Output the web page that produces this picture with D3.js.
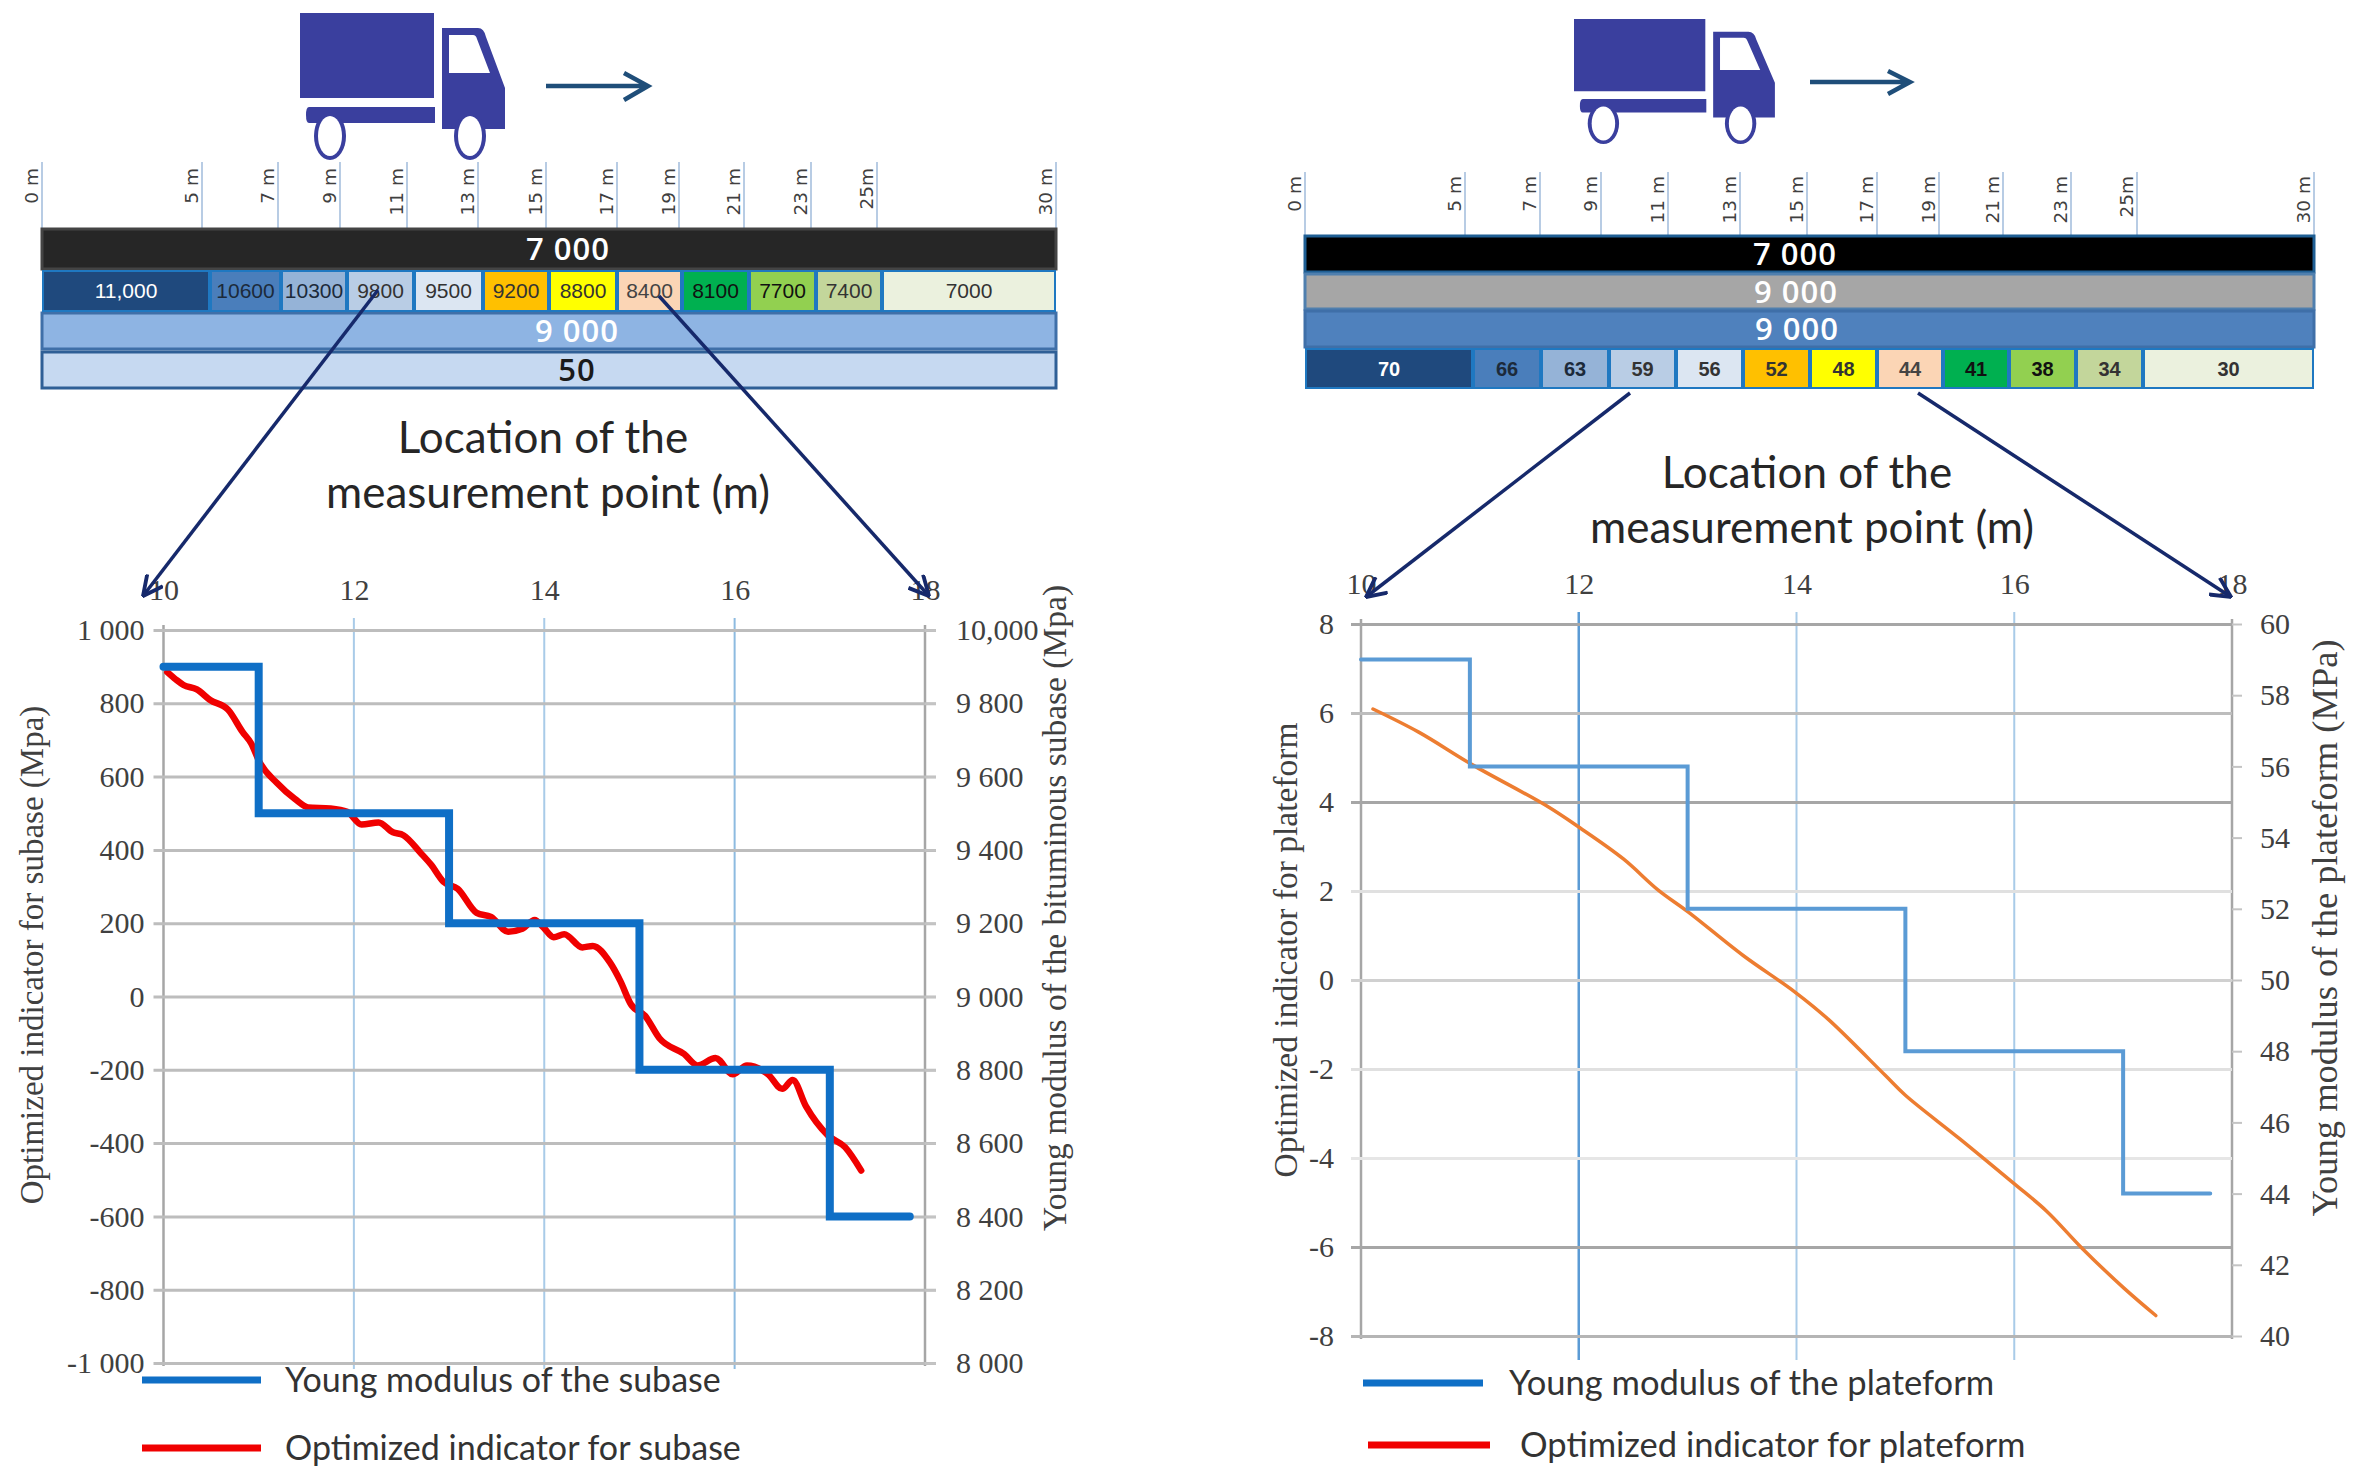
<!DOCTYPE html>
<html>
<head>
<meta charset="utf-8">
<title>Young modulus and optimized indicator</title>
<script src="https://cdnjs.cloudflare.com/ajax/libs/d3/7.8.5/d3.min.js"></script>
<style>
  html, body { margin: 0; background: #fff; }
  svg { display: block; }
</style>
</head>
<body>
<div id="chart"></div>
<script>
// ---- data ----
const rulerMeters = [0, 5, 7, 9, 11, 13, 15, 17, 19, 21, 23, 25, 30]
const rulerLabels = ['0 m', '5 m', '7 m', '9 m', '11 m', '13 m', '15 m', '17 m', '19 m', '21 m', '23 m', '25m', '30 m']

const subaseCells = ['11,000', '10600', '10300', '9800', '9500', '9200', '8800', '8400', '8100', '7700', '7400', '7000']
const platformCells = ['70', '66', '63', '59', '56', '52', '48', '44', '41', '38', '34', '30']

const subaseStepX = [10, 11, 13, 15, 17, 17.84]
const subaseModulus = [9900, 9500, 9200, 8800, 8400, 8400]
const subaseIndicatorX = [10.04, 10.13, 10.21, 10.35, 10.49, 10.68, 10.83, 10.92, 11.01, 11.19, 11.38, 11.52, 11.75, 11.93, 12.08, 12.26, 12.41, 12.52, 12.70, 12.81, 12.94, 13.09, 13.29, 13.44, 13.62, 13.77, 13.90, 13.99, 14.10, 14.21, 14.40, 14.51, 14.69, 14.80, 14.91, 15.06, 15.21, 15.47, 15.61, 15.80, 15.98, 16.13, 16.35, 16.50, 16.61, 16.75, 16.98, 17.16, 17.33]
const subaseIndicator = [885, 865, 850, 838, 809, 782, 722, 691, 639, 583, 539, 516, 513, 504, 469, 475, 448, 440, 392, 360, 313, 294, 228, 217, 177, 185, 209, 189, 162, 170, 134, 138, 93, 42, -21, -53, -114, -157, -188, -168, -212, -188, -212, -252, -228, -300, -379, -411, -475]

const platformStepX = [10, 11, 13, 15, 17, 17.8]
const platformModulus = [59, 56, 52, 48, 44, 44]
const platformIndicatorX = [10.11, 10.53, 11.02, 11.70, 12.01, 12.41, 12.73, 13.01, 13.51, 13.98, 14.29, 14.81, 15.0, 15.5, 15.99, 16.30, 16.62, 17.01, 17.30]
const platformIndicator = [6.09, 5.57, 4.84, 3.92, 3.42, 2.72, 2.02, 1.52, 0.55, -0.26, -0.88, -2.13, -2.59, -3.57, -4.56, -5.2, -6.02, -6.93, -7.54]

const topTicks = [10, 12, 14, 16, 18]
const subaseLeftTicks = [1000, 800, 600, 400, 200, 0, -200, -400, -600, -800, -1000]
const subaseLeftLabels = ['1 000', '800', '600', '400', '200', '0', '-200', '-400', '-600', '-800', '-1 000']
const subaseRightTicks = [10000, 9800, 9600, 9400, 9200, 9000, 8800, 8600, 8400, 8200, 8000]
const subaseRightLabels = ['10,000', '9 800', '9 600', '9 400', '9 200', '9 000', '8 800', '8 600', '8 400', '8 200', '8 000']
const platformLeftTicks = [8, 6, 4, 2, 0, -2, -4, -6, -8]
const platformRightTicks = [60, 58, 56, 54, 52, 50, 48, 46, 44, 42, 40]

// ---- styles ----
const cellColors = ['#1f497d', '#4a7ebb', '#95b3d7', '#b9cde5', '#dce6f2', '#ffc000', '#ffff00', '#fbd5b5', '#00b050', '#92d050', '#c3d69b', '#ebf1de']
const cellText = ['#fff', '#1c2a3a', '#1c2a3a', '#333', '#333', '#333', '#333', '#444', '#111', '#111', '#333', '#333']
const serif = '"Liberation Serif", serif'
const sans = 'Lato, sans-serif'
const wide = '"Open Sans", sans-serif'

const svg = d3.select('#chart').append('svg')
    .attr('width', 2355)
    .attr('height', 1477)
    .attr('viewBox', '0 0 2355 1477')

svg.append('defs').append('marker')
    .attr('id', 'head')
    .attr('viewBox', '0 0 20 20')
    .attr('refX', 19)
    .attr('refY', 10)
    .attr('markerWidth', 22)
    .attr('markerHeight', 22)
    .attr('markerUnits', 'userSpaceOnUse')
    .attr('orient', 'auto')
    .append('path')
    .attr('d', 'M1,1 L19,10 L1,19')
    .attr('fill', 'none')
    .attr('stroke', '#16296b')
    .attr('stroke-width', 3.5)

function drawTruck(g, box) {
    let t = g.append('g')
        .attr('transform', `translate(${box.x},${box.y}) scale(${box.sx},${box.sy})`)
    let color = '#3a3f9e'
    t.append('rect').attr('width', 134).attr('height', 85).attr('fill', color)
    t.append('path').attr('fill', color)
        .attr('d', 'M9,94 H135 V110 H9 Q6,110 6,102 Q6,94 9,94 Z')
    t.append('path').attr('fill', color)
        .attr('d', 'M142,15 H178 Q184,15 186,24 L205,75 V116 H142 Z')
    t.append('path').attr('fill', '#fff')
        .attr('d', 'M149,22 H173 Q176,22 177,26 L190,60 H149 Z')
    ;[30, 170].forEach(cx => {
        t.append('ellipse').attr('cx', cx).attr('cy', 123)
            .attr('rx', 16).attr('ry', 24)
            .attr('fill', color)
        t.append('ellipse').attr('cx', cx).attr('cy', 123)
            .attr('rx', 12).attr('ry', 20)
            .attr('fill', '#fff')
    })
}

function drawRuler(g, p) {
    let x = d3.scaleLinear().domain(rulerMeters).range(p.tickPx)
    let ticks = g.selectAll('.ruler-tick').data(rulerMeters).enter().append('g')
        .attr('class', 'ruler-tick')
        .attr('transform', d => `translate(${x(d)},0)`)
    ticks.append('line')
        .attr('y1', p.tickTop)
        .attr('y2', p.tickBottom)
        .attr('stroke', '#b8cce4')
        .attr('stroke-width', 2)
    ticks.append('text')
        .text((d, i) => rulerLabels[i])
        .attr('transform', `translate(-4,${p.labelTop}) rotate(-90)`)
        .attr('text-anchor', 'end')
        .attr('font-family', '"DejaVu Sans", sans-serif')
        .attr('font-size', 18.5)
        .attr('fill', '#404040')
}

function drawCells(g, p, row) {
    let edge = d3.scaleLinear().domain(rulerMeters).range(p.cellPx)
    g.append('rect')
        .attr('x', edge(0)).attr('y', row.top - 2)
        .attr('width', edge(30) - edge(0)).attr('height', row.bottom - row.top + 4)
        .attr('fill', '#1f78c1')
    p.cells.forEach((label, i) => {
        let x0 = edge(rulerMeters[i]), x1 = edge(rulerMeters[i + 1])
        g.append('rect')
            .attr('x', x0 + 2).attr('y', row.top)
            .attr('width', x1 - x0 - 4).attr('height', row.bottom - row.top)
            .attr('fill', cellColors[i])
        g.append('text')
            .text(label)
            .attr('x', (x0 + x1) / 2)
            .attr('y', (row.top + row.bottom) / 2 + 7)
            .attr('text-anchor', 'middle')
            .attr('font-family', p.cellFont)
            .attr('font-weight', p.cellWeight)
            .attr('font-size', p.cellSize)
            .attr('fill', cellText[i])
    })
}

function drawBands(g, p) {
    p.bands.forEach(b => {
        g.append('rect')
            .attr('x', p.cellPx[0]).attr('y', b.top)
            .attr('width', p.cellPx[12] - p.cellPx[0]).attr('height', b.bottom - b.top)
            .attr('fill', b.fill)
            .attr('stroke', b.stroke)
            .attr('stroke-width', 3)
        g.append('text')
            .text(b.label)
            .attr('x', b.cx)
            .attr('y', (b.top + b.bottom) / 2 + 11)
            .attr('text-anchor', 'middle')
            .attr('font-family', wide)
            .attr('font-weight', 600)
            .attr('font-size', 31)
            .attr('letter-spacing', 1)
            .attr('fill', b.color)
    })
}

function drawChart(g, p) {
    let x = d3.scaleLinear().domain([10, 18]).range([p.left, p.right])
    let yLeft = d3.scaleLinear().domain(p.leftDomain).range([p.bottom, p.top])
    let yRight = d3.scaleLinear().domain(p.rightDomain).range([p.bottom, p.top])

    // vertical guides
    g.selectAll('.guide').data(topTicks.slice(1, 4)).enter().append('line')
        .attr('class', 'guide')
        .attr('x1', d => x(d)).attr('x2', d => x(d))
        .attr('y1', p.top - 12).attr('y2', p.bottom + p.guideOver)
        .attr('stroke', (d, i) => p.guideColors[i])
        .attr('stroke-width', (d, i) => p.guideWidths[i])

    ;[10, 18].forEach(d => {
        g.append('line')
            .attr('x1', x(d)).attr('x2', x(d))
            .attr('y1', p.top - 5).attr('y2', p.bottom + 3)
            .attr('stroke', '#a6a6a6').attr('stroke-width', 2.5)
    })

    let topAxis = d3.axisTop(x).tickValues(topTicks).tickSize(0).tickPadding(0)
    let gTop = g.append('g').attr('transform', `translate(0,${p.topAxisY})`).call(topAxis)
    gTop.select('.domain').remove()
    gTop.selectAll('text')
        .attr('font-family', serif).attr('font-size', p.fontSize).attr('fill', '#404040')

    let leftAxis = d3.axisLeft(yLeft).tickValues(p.leftTicks).tickSize(10).tickPadding(p.leftPad)
        .tickFormat((d, i) => p.leftLabels ? p.leftLabels[i] : d)
    let gLeft = g.append('g').attr('transform', `translate(${p.left},0)`).call(leftAxis)
    gLeft.select('.domain').remove()
    gLeft.selectAll('line')
        .attr('x1', -10)
        .attr('x2', p.right - p.left + p.gridOver)
        .attr('stroke', (d, i) => p.gridColors ? p.gridColors[i] : '#bdbdbd')
        .attr('stroke-width', 3)
    gLeft.selectAll('text')
        .attr('font-family', serif).attr('font-size', p.fontSize).attr('fill', '#404040')

    let rightAxis = d3.axisRight(yRight).tickValues(p.rightTicks).tickSize(p.rightTick).tickPadding(p.rightPad)
        .tickFormat((d, i) => p.rightLabels ? p.rightLabels[i] : d)
    let gRight = g.append('g').attr('transform', `translate(${p.right},0)`).call(rightAxis)
    gRight.select('.domain').remove()
    gRight.selectAll('line').attr('stroke', '#c4c4c4').attr('stroke-width', 2)
    gRight.selectAll('text')
        .attr('font-family', serif).attr('font-size', p.fontSize).attr('fill', '#404040')

    // series
    let stepLine = d3.line().x(d => x(d[0])).y(d => yRight(d[1])).curve(d3.curveStepAfter)
    let indicatorLine = d3.line().x(d => x(d[0])).y(d => yLeft(d[1])).curve(p.indicatorCurve)

    g.append('path')
        .attr('d', indicatorLine(d3.zip(p.indicatorX, p.indicator)))
        .attr('fill', 'none')
        .attr('stroke', p.indicatorColor)
        .attr('stroke-width', p.indicatorWidth)
        .attr('stroke-linecap', 'round')
    g.append('path')
        .attr('d', stepLine(d3.zip(p.stepX, p.modulus)))
        .attr('fill', 'none')
        .attr('stroke', p.stepColor)
        .attr('stroke-width', p.stepWidth)
        .attr('stroke-linecap', 'round')

    // axis titles
    p.titles.forEach(t => {
        g.append('text')
            .text(t.text)
            .attr('transform', `translate(${t.x},${t.y}) rotate(-90)`)
            .attr('text-anchor', 'middle')
            .attr('font-family', serif)
            .attr('font-size', t.size)
            .attr('fill', '#404040')
    })
}

function drawLegend(g, p) {
    p.legend.forEach(l => {
        g.append('line')
            .attr('x1', l.x1).attr('x2', l.x2)
            .attr('y1', l.y).attr('y2', l.y)
            .attr('stroke', l.color)
            .attr('stroke-width', 7)
        g.append('text')
            .text(l.text)
            .attr('x', l.tx)
            .attr('y', l.y + 12)
            .attr('font-family', sans)
            .attr('font-size', p.legendSize)
            .attr('fill', '#333')
    })
}

function drawPanel(p) {
    let g = svg.append('g')
    drawTruck(g, p.truck)

    g.append('path')
        .attr('d', p.travelArrow)
        .attr('fill', 'none')
        .attr('stroke', '#1f4e79')
        .attr('stroke-width', 4.5)

    drawRuler(g, p)
    drawBands(g, p)
    drawCells(g, p, p.cellRow)

    p.caption.forEach(c => {
        g.append('text')
            .text(c.text)
            .attr('x', c.x).attr('y', c.y)
            .attr('text-anchor', 'middle')
            .attr('font-family', sans)
            .attr('font-size', 44)
            .attr('fill', '#262626')
    })

    drawChart(g, p)
    drawLegend(g, p)

    p.zoomArrows.forEach(a => {
        g.append('line')
            .attr('x1', a[0]).attr('y1', a[1])
            .attr('x2', a[2]).attr('y2', a[3])
            .attr('stroke', '#16296b')
            .attr('stroke-width', 3.5)
            .attr('marker-end', 'url(#head)')
    })
}

drawPanel({
    truck: { x: 300, y: 13, sx: 1, sy: 1 },
    travelArrow: 'M546,86 H648 M624,73 L648,86 L624,100',
    tickPx: [42, 202, 278, 340, 407, 478, 546, 617, 679, 744, 811, 877, 1056],
    cellPx: [42, 210, 281, 347, 414, 483, 549, 617, 682, 749, 816, 882, 1056],
    tickTop: 162, tickBottom: 229, labelTop: 168,
    cells: subaseCells, cellFont: '"Liberation Sans", sans-serif', cellWeight: 400, cellSize: 21,
    cellRow: { top: 272, bottom: 310 },
    bands: [
        { top: 229, bottom: 269, fill: '#262626', stroke: '#444', label: '7 000', cx: 568, color: '#fff' },
        { top: 313, bottom: 349, fill: '#8eb4e3', stroke: '#3f6fa8', label: '9 000', cx: 577, color: '#fff' },
        { top: 352, bottom: 388, fill: '#c6d9f1', stroke: '#2f5f96', label: '50', cx: 577, color: '#1a1a1a' }
    ],
    caption: [
        { text: 'Location of the', x: 543, y: 453 },
        { text: 'measurement point (m)', x: 548, y: 508 }
    ],
    left: 163.5, right: 925, top: 630, bottom: 1363,
    topAxisY: 600, fontSize: 30, leftPad: 9, rightPad: 20, rightTick: 11, gridOver: 11, guideOver: 6,
    leftDomain: [-1000, 1000], rightDomain: [8000, 10000],
    leftTicks: subaseLeftTicks, leftLabels: subaseLeftLabels,
    rightTicks: subaseRightTicks, rightLabels: subaseRightLabels,
    guideColors: ['#a9cbe8', '#a9cbe8', '#8dbbe0'], guideWidths: [2, 2, 2],
    stepX: subaseStepX, modulus: subaseModulus, stepColor: '#0f6fc6', stepWidth: 8,
    indicatorX: subaseIndicatorX, indicator: subaseIndicator, indicatorCurve: d3.curveMonotoneX,
    indicatorColor: '#f00000', indicatorWidth: 6.5,
    titles: [
        { text: 'Optimized indicator for subase (Mpa)', x: 43, y: 955, size: 33 },
        { text: 'Young modulus of the bituminous subase (Mpa)', x: 1066, y: 908, size: 33.5 }
    ],
    legendSize: 34,
    legend: [
        { x1: 142, x2: 261, y: 1380, color: '#0f6fc6', text: 'Young modulus of the subase', tx: 285 },
        { x1: 142, x2: 261, y: 1448, color: '#f00000', text: 'Optimized indicator for subase', tx: 285 }
    ],
    zoomArrows: [[378, 290, 143, 596], [659, 296, 929, 596]]
})

drawPanel({
    truck: { x: 1574, y: 19, sx: 0.98, sy: 0.85 },
    travelArrow: 'M1810,82 H1910 M1888,71 L1910,82 L1888,94',
    tickPx: [1305, 1465, 1540, 1601, 1668, 1740, 1807, 1877, 1939, 2003, 2071, 2137, 2314],
    cellPx: [1305, 1473, 1541, 1609, 1676, 1743, 1810, 1877, 1943, 2009, 2076, 2143, 2314],
    tickTop: 172, tickBottom: 236, labelTop: 176,
    cells: platformCells, cellFont: '"Liberation Sans", sans-serif', cellWeight: 700, cellSize: 20,
    cellRow: { top: 350, bottom: 387 },
    bands: [
        { top: 236, bottom: 272, fill: '#000', stroke: '#1f5f94', label: '7 000', cx: 1795, color: '#fff' },
        { top: 274, bottom: 309, fill: '#a6a6a6', stroke: '#4f7fae', label: '9 000', cx: 1796, color: '#fff' },
        { top: 311, bottom: 347, fill: '#4f81bd', stroke: '#3f6fa8', label: '9 000', cx: 1797, color: '#fff' }
    ],
    caption: [
        { text: 'Location of the', x: 1807, y: 488 },
        { text: 'measurement point (m)', x: 1812, y: 543 }
    ],
    left: 1361, right: 2232, top: 624, bottom: 1336,
    topAxisY: 594, fontSize: 30, leftPad: 17, rightPad: 18, rightTick: 10, gridOver: 0, guideOver: 24,
    leftDomain: [-8, 8], rightDomain: [40, 60],
    leftTicks: platformLeftTicks,
    gridColors: ['#a6a6a6', '#bdbdbd', '#a6a6a6', '#e0e0e0', '#d0d0d0', '#e0e0e0', '#e6e6e6', '#a6a6a6', '#b5b5b5'],
    rightTicks: platformRightTicks,
    guideColors: ['#5b9bd5', '#a9cbe8', '#a9cbe8'], guideWidths: [2.5, 2, 2],
    stepX: platformStepX, modulus: platformModulus, stepColor: '#5b9bd5', stepWidth: 4,
    indicatorX: platformIndicatorX, indicator: platformIndicator, indicatorCurve: d3.curveCatmullRom,
    indicatorColor: '#ed7d31', indicatorWidth: 3.5,
    titles: [
        { text: 'Optimized indicator for plateform', x: 1297, y: 950, size: 33.5 },
        { text: 'Young modulus of the plateform (MPa)', x: 2337, y: 928, size: 36.5 }
    ],
    legendSize: 34.5,
    legend: [
        { x1: 1363, x2: 1483, y: 1383, color: '#0f6fc6', text: 'Young modulus of the plateform', tx: 1509 },
        { x1: 1368, x2: 1490, y: 1445, color: '#f00000', text: 'Optimized indicator for plateform', tx: 1520 }
    ],
    zoomArrows: [[1630, 393, 1366, 597], [1918, 393, 2231, 597]]
})
</script>
</body>
</html>
